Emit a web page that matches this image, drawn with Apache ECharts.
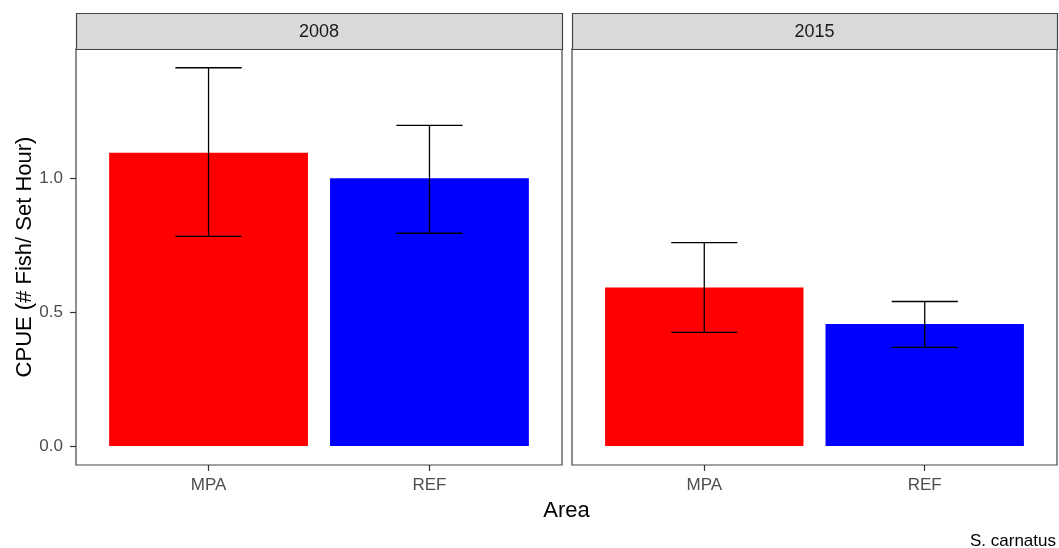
<!DOCTYPE html>
<html>
<head>
<meta charset="utf-8">
<script src="https://cdn.jsdelivr.net/npm/echarts@6/dist/echarts.min.js"></script>
<style>
  html, body { margin: 0; padding: 0; background: #fff; }
  #chart { width: 1059px; height: 548px; }
</style>
</head>
<body>
<div id="chart"></div>
<script>
// Facet labels, categories and values
const years = ['2008', '2015'];
const areas = ['MPA', 'REF'];
const cpue2008 = [1.096, 1.0];
const lower2008 = [0.783, 0.795];
const upper2008 = [1.413, 1.198];
const cpue2015 = [0.592, 0.456];
const lower2015 = [0.425, 0.369];
const upper2015 = [0.760, 0.540];
const yTicks = [0, 0.5, 1.0];
const areaColors = ['#FF0000', '#0000FF'];

const chart = echarts.init(document.getElementById('chart'));
const FONT = '"Liberation Sans", Arial, sans-serif';

// Panel geometry (pixels)
const panels = [
  { left: 76, right: 562 },
  { left: 572, right: 1057 }
];
const stripTop = 13, panelTop = 49, panelBottom = 465;
const W = 1059, H = 548;

const xTicks = areas.map((a, i) => i + 1);

function barItem(params, api) {
  const x = api.value(0), y = api.value(1);
  const p0 = api.coord([x - 0.45, y]);
  const p1 = api.coord([x + 0.45, 0]);
  return {
    type: 'rect',
    shape: { x: p0[0], y: p0[1], width: p1[0] - p0[0], height: p1[1] - p0[1] },
    style: { fill: areaColors[x - 1] }
  };
}

function errItem(params, api) {
  const x = api.value(0), lo = api.value(1), hi = api.value(2);
  const top = api.coord([x, hi]);
  const bot = api.coord([x, lo]);
  const capL = api.coord([x - 0.15, hi])[0];
  const capR = api.coord([x + 0.15, hi])[0];
  const st = { stroke: '#000', lineWidth: 1.3 };
  return {
    type: 'group',
    children: [
      { type: 'line', shape: { x1: top[0], y1: top[1], x2: bot[0], y2: bot[1] }, style: st },
      { type: 'line', shape: { x1: capL, y1: top[1], x2: capR, y2: top[1] }, style: st },
      { type: 'line', shape: { x1: capL, y1: bot[1], x2: capR, y2: bot[1] }, style: st }
    ]
  };
}

const grids = panels.map(p => ({
  left: p.left, right: W - p.right, top: panelTop, bottom: H - panelBottom,
  show: true, borderColor: '#444', borderWidth: 1.2, backgroundColor: '#fff'
}));

const xAxes = panels.map((p, i) => ({
  type: 'value', gridIndex: i, min: 0.4, max: 2.6, position: 'bottom',
  axisLine: { show: false, onZero: false },
  splitLine: { show: false },
  axisTick: { show: true, length: 6, customValues: xTicks, lineStyle: { color: '#333', width: 1.2 } },
  axisLabel: {
    customValues: xTicks, margin: 12, color: '#4D4D4D', fontSize: 17, fontFamily: FONT,
    formatter: v => areas[Math.round(v) - 1] || ''
  }
}));

const yAxes = panels.map((p, i) => ({
  type: 'value', gridIndex: i, min: -0.0706, max: 1.4831,
  axisLine: { show: false, onZero: false },
  splitLine: { show: false },
  axisTick: { show: i === 0, length: 6, customValues: yTicks, lineStyle: { color: '#333', width: 1.2 } },
  axisLabel: {
    show: i === 0, customValues: yTicks, margin: 13, color: '#4D4D4D', fontSize: 17, fontFamily: FONT,
    formatter: v => v.toFixed(1)
  },
  name: i === 0 ? 'CPUE (# Fish/ Set Hour)' : '',
  nameLocation: 'middle', nameGap: 40, nameRotate: 90,
  nameTextStyle: { color: '#000', fontSize: 22, fontFamily: FONT }
}));

const means = [cpue2008, cpue2015];
const lows = [lower2008, lower2015];
const highs = [upper2008, upper2015];

const series = [];
years.forEach((yr, i) => {
  series.push({
    type: 'custom', name: 'bars ' + yr, xAxisIndex: i, yAxisIndex: i,
    renderItem: barItem, encode: { x: 0, y: 1 },
    data: means[i].map((v, j) => [j + 1, v]), silent: true
  });
  series.push({
    type: 'custom', name: 'errors ' + yr, xAxisIndex: i, yAxisIndex: i,
    renderItem: errItem, encode: { x: 0, y: [1, 2] },
    data: means[i].map((v, j) => [j + 1, lows[i][j], highs[i][j]]), silent: true, z: 3
  });
});

// Facet strips and titles
const graphics = [];
panels.forEach((p, i) => {
  graphics.push({
    type: 'rect', silent: true,
    shape: { x: p.left + 0.5, y: stripTop + 0.5, width: p.right - p.left, height: panelTop - stripTop },
    style: { fill: '#D9D9D9', stroke: '#444', lineWidth: 1.2 }
  });
  graphics.push({
    type: 'text', silent: true,
    x: (p.left + p.right) / 2, y: (stripTop + panelTop) / 2 + 1,
    style: { text: years[i], fill: '#1A1A1A', font: '18px ' + FONT, align: 'center', verticalAlign: 'middle' }
  });
});
graphics.push({
  type: 'text', silent: true,
  x: (panels[0].left + panels[1].right) / 2, y: 511,
  style: { text: 'Area', fill: '#000', font: '22px ' + FONT, align: 'center', verticalAlign: 'middle' }
});
graphics.push({
  type: 'text', silent: true,
  x: 1056, y: 541,
  style: { text: 'S. carnatus', fill: '#000', font: '17px ' + FONT, align: 'right', verticalAlign: 'middle' }
});

chart.setOption({
  animation: false,
  backgroundColor: '#fff',
  grid: grids,
  xAxis: xAxes,
  yAxis: yAxes,
  series: series,
  graphic: graphics
});
</script>
</body>
</html>
